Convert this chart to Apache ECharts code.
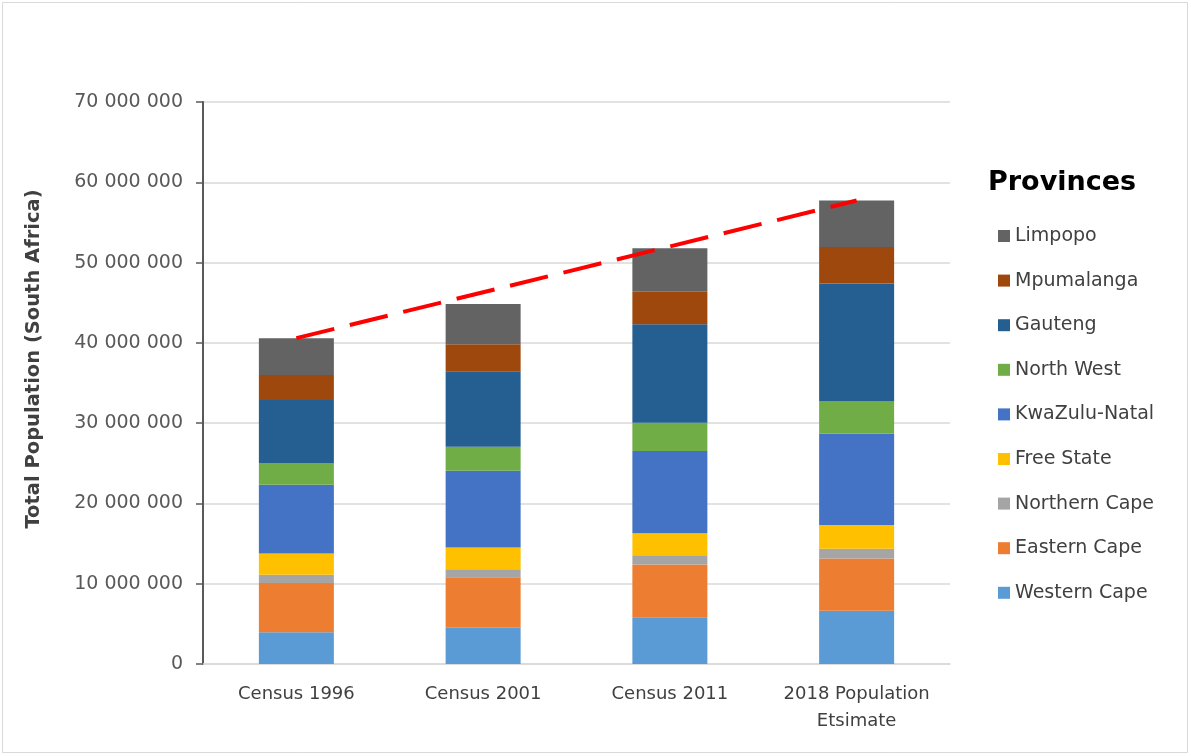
<!DOCTYPE html>
<html>
<head>
<meta charset="utf-8">
<title>South Africa population by province</title>
<script src="https://cdn.jsdelivr.net/npm/echarts@6/dist/echarts.min.js"></script>
<style>
  html, body { margin: 0; padding: 0; background: #ffffff; }
  #chart { width: 1191px; height: 756px; }
</style>
</head>
<body>
<div id="chart"></div>
<script>
// Population counts per province, by census / estimate
const categories = ['Census 1996', 'Census 2001', 'Census 2011', '2018 Population\nEtsimate'];
const westernCape  = [3956875, 4524335, 5822734, 6621100];
const easternCape  = [6147244, 6278651, 6562053, 6522700];
const northernCape = [1011864, 991919, 1145861, 1225600];
const freeState    = [2633504, 2706775, 2745590, 2954300];
const kwaZuluNatal = [8572302, 9584129, 10267300, 11384700];
const northWest    = [2727223, 2984098, 3509953, 3979000];
const gauteng      = [7834125, 9388854, 12272263, 14717000];
const mpumalanga   = [3123869, 3365554, 4039939, 4523900];
const limpopo      = [4576566, 5006707, 5404868, 5797300];
const yTicks = { min: 0, max: 70000000, step: 10000000 };

// Stack order, bottom to top
const provinces = [
  { name: 'Western Cape',  data: westernCape,  color: '#5B9BD5' },
  { name: 'Eastern Cape',  data: easternCape,  color: '#ED7D31' },
  { name: 'Northern Cape', data: northernCape, color: '#A5A5A5' },
  { name: 'Free State',    data: freeState,    color: '#FFC000' },
  { name: 'KwaZulu-Natal', data: kwaZuluNatal, color: '#4472C4' },
  { name: 'North West',    data: northWest,    color: '#70AD47' },
  { name: 'Gauteng',       data: gauteng,      color: '#255E91' },
  { name: 'Mpumalanga',    data: mpumalanga,   color: '#9E480E' },
  { name: 'Limpopo',       data: limpopo,      color: '#636363' }
];

// National totals; the trend line joins the first and last totals
const totals = categories.map((_, i) => provinces.reduce((s, p) => s + p.data[i], 0));
const last = categories.length - 1;

const FONT = '"DejaVu Sans", sans-serif';

function spaced(v) {
  return String(Math.round(v)).replace(/\B(?=(\d{3})+(?!\d))/g, ' ');
}

const chart = echarts.init(document.getElementById('chart'), null, { renderer: 'canvas' });

const series = provinces.map(p => ({
  name: p.name,
  type: 'bar',
  stack: 'population',
  barWidth: 75,
  data: p.data,
  itemStyle: { color: p.color },
  emphasis: { disabled: true }
}));

series.push({
  name: 'Total',
  type: 'line',
  data: [[0, totals[0]], [last, totals[last]]],
  symbol: 'none',
  z: 5,
  lineStyle: { color: '#FF0000', width: 4, type: [39, 16], cap: 'butt' },
  emphasis: { disabled: true }
});

chart.setOption({
  animation: false,
  backgroundColor: '#ffffff',
  grid: { left: 203, right: 241, top: 102, bottom: 92, containLabel: false },
  legend: {
    data: provinces.map(p => p.name).reverse(),
    orient: 'vertical',
    left: 993,
    top: 221,
    itemWidth: 12,
    itemHeight: 12,
    itemGap: 24.6,
    icon: 'rect',
    selectedMode: false,
    textStyle: { fontFamily: FONT, fontSize: 19, color: '#404040', lineHeight: 20 }
  },
  xAxis: {
    type: 'category',
    data: categories,
    axisLine: { show: true, lineStyle: { color: '#d9d9d9', width: 1.5 } },
    axisTick: { show: false },
    axisLabel: {
      fontFamily: FONT, fontSize: 18, color: '#404040',
      lineHeight: 27, margin: 17, interval: 0
    }
  },
  yAxis: {
    type: 'value',
    min: yTicks.min,
    max: yTicks.max,
    interval: yTicks.step,
    axisLine: { show: true, lineStyle: { color: '#595959', width: 2 } },
    axisTick: { show: true, inside: false, length: 7, lineStyle: { color: '#595959', width: 1.5 } },
    splitLine: { show: true, lineStyle: { color: '#d9d9d9', width: 1.5 } },
    axisLabel: {
      fontFamily: FONT, fontSize: 19, color: '#595959', margin: 20,
      formatter: v => spaced(v)
    }
  },
  graphic: [
    {
      type: 'rect',
      silent: true,
      shape: { x: 2.5, y: 2.5, width: 1185, height: 750 },
      style: { fill: 'none', stroke: '#d9d9d9', lineWidth: 1 }
    },
    {
      type: 'text',
      silent: true,
      x: 34,
      y: 359,
      rotation: Math.PI / 2,
      style: {
        text: 'Total Population (South Africa)',
        font: 'bold 19.5px ' + FONT,
        fill: '#404040',
        align: 'center',
        verticalAlign: 'middle'
      }
    },
    {
      type: 'text',
      silent: true,
      x: 988,
      y: 183,
      style: {
        text: 'Provinces',
        font: 'bold 27px ' + FONT,
        fill: '#000000',
        align: 'left',
        verticalAlign: 'middle'
      }
    }
  ],
  series: series
});
</script>
</body>
</html>
